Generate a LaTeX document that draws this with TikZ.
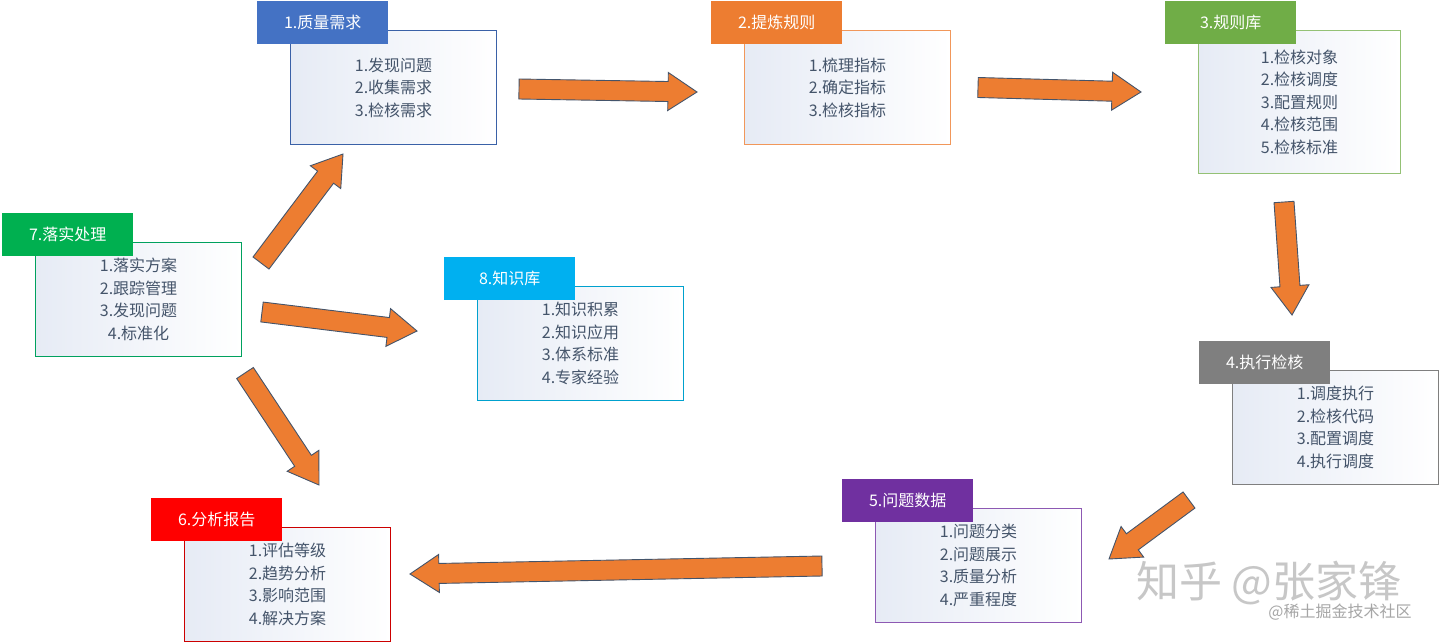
\documentclass[tikz,border=0pt]{standalone}
\usepackage{fontspec}
\setmainfont{Noto Sans CJK SC}
\usetikzlibrary{calc}

\definecolor{txtblue}{HTML}{44546A}
\definecolor{shadeblue}{HTML}{E6EBF5}
\definecolor{arrfill}{HTML}{ED7D31}
\definecolor{arrline}{HTML}{44546A}
\definecolor{cblue}{HTML}{4472C4}
\definecolor{corange}{HTML}{ED7D31}
\definecolor{clgreen}{HTML}{70AD47}
\definecolor{cgray}{HTML}{7F7F7F}
\definecolor{cpurple}{HTML}{7030A0}
\definecolor{cred}{HTML}{FF0000}
\definecolor{cgreen}{HTML}{00B050}
\definecolor{ccyan}{HTML}{00B0F0}

% block arrow between two named coordinates
\newcommand\blockarrow[2]{%
  \coordinate (bh) at ($(#2)!29pt!(#1)$);
  \draw[bigarrow] ($(#1)!10pt!90:(#2)$) -- ($(bh)!10pt!-90:(#1)$) -- ($(bh)!19pt!-90:(#1)$) -- (#2)
    -- ($(bh)!19pt!90:(#1)$) -- ($(bh)!10pt!90:(#1)$) -- ($(#1)!10pt!-90:(#2)$) -- cycle;}

\begin{document}
\begin{tikzpicture}[x=1pt,y=-1pt,font=\fontsize{16}{22.5}\selectfont,
  head/.style={rectangle,anchor=north west,minimum width=131pt,minimum height=43pt,inner sep=0pt,text=white},
  body/.style={rectangle,anchor=north west,draw=#1,line width=1.1pt,minimum width=206pt,minimum height=114pt,
    inner sep=0pt,align=center,text=txtblue,left color=shadeblue,right color=white},
  bigarrow/.style={fill=arrfill,draw=arrline,line width=0.9pt,line join=miter},
  wm/.style={text=black!22}]

            \useasboundingbox[fill=white] (0,0) rectangle (1440,643);

            \node[body=cblue!85!black] (b1) at (290,30) {1.发现问题\\2.收集需求\\3.检核需求};
            \node[head,fill=cblue] (h1) at ([xshift=-33pt,yshift=29pt]b1.north west) {1.质量需求};

            \node[body=corange!80!white] (b2) at (744,30) {1.梳理指标\\2.确定指标\\3.检核指标};
            \node[head,fill=corange] (h2) at ([xshift=-33pt,yshift=29pt]b2.north west) {2.提炼规则};

            \node[body=clgreen!75!white,minimum width=202pt,minimum height=143pt] (b3) at (1198,30) {1.检核对象\\2.检核调度\\3.配置规则\\4.检核范围\\5.检核标准};
            \node[head,fill=clgreen] (h3) at ([xshift=-33pt,yshift=29pt]b3.north west) {3.规则库};

            \node[body=cgray] (b4) at (1232,370) {1.调度执行\\2.检核代码\\3.配置调度\\4.执行调度};
            \node[head,fill=cgray] (h4) at ([xshift=-33pt,yshift=29pt]b4.north west) {4.执行检核};

            \node[body=cpurple!80!white] (b5) at (875,508) {1.问题分类\\2.问题展示\\3.质量分析\\4.严重程度};
            \node[head,fill=cpurple] (h5) at ([xshift=-33pt,yshift=29pt]b5.north west) {5.问题数据};

            \node[body=cred!80!black] (b6) at (184,527) {1.评估等级\\2.趋势分析\\3.影响范围\\4.解决方案};
            \node[head,fill=cred] (h6) at ([xshift=-33pt,yshift=29pt]b6.north west) {6.分析报告};

            \node[body=cgreen!70!teal] (b7) at (35,242) {1.落实方案\\2.跟踪管理\\3.发现问题\\4.标准化};
            \node[head,fill=cgreen] (h7) at ([xshift=-33pt,yshift=29pt]b7.north west) {7.落实处理};

            \node[body=ccyan!70!teal] (b8) at (477,286) {1.知识积累\\2.知识应用\\3.体系标准\\4.专家经验};
            \node[head,fill=ccyan] (h8) at ([xshift=-33pt,yshift=29pt]b8.north west) {8.知识库};

            % arrow ends
            \coordinate (a12) at (519,89);   \coordinate (e12) at (697,92);
            \coordinate (a23) at (978,87.5); \coordinate (e23) at (1141,92);
            \coordinate (a34) at (1284,202); \coordinate (e34) at (1292,315);
            \coordinate (a45) at (1189,500); \coordinate (e45) at (1109,559);
            \coordinate (a56) at (822,566);  \coordinate (e56) at (410,574);
            \coordinate (a76) at (245,373);  \coordinate (e76) at (319,485);
            \coordinate (a71) at (261,263);  \coordinate (e71) at (343,154);
            \coordinate (a78) at (262,312);  \coordinate (e78) at (417,331);

            \blockarrow{a12}{e12}
            \blockarrow{a23}{e23}
            \blockarrow{a34}{e34}
            \blockarrow{a45}{e45}
            \blockarrow{a56}{e56}
            \blockarrow{a76}{e76}
            \blockarrow{a71}{e71}
            \blockarrow{a78}{e78}

            \node[wm,font=\fontsize{43}{43}\selectfont] (zh) at (1269,583) {知乎 @张家锋};
            \node[wm,text=black!35,font=\fontsize{16}{16}\selectfont] (jj) at (1340,612) {@稀土掘金技术社区};

            ;
        \end{tikzpicture}
\end{document}
